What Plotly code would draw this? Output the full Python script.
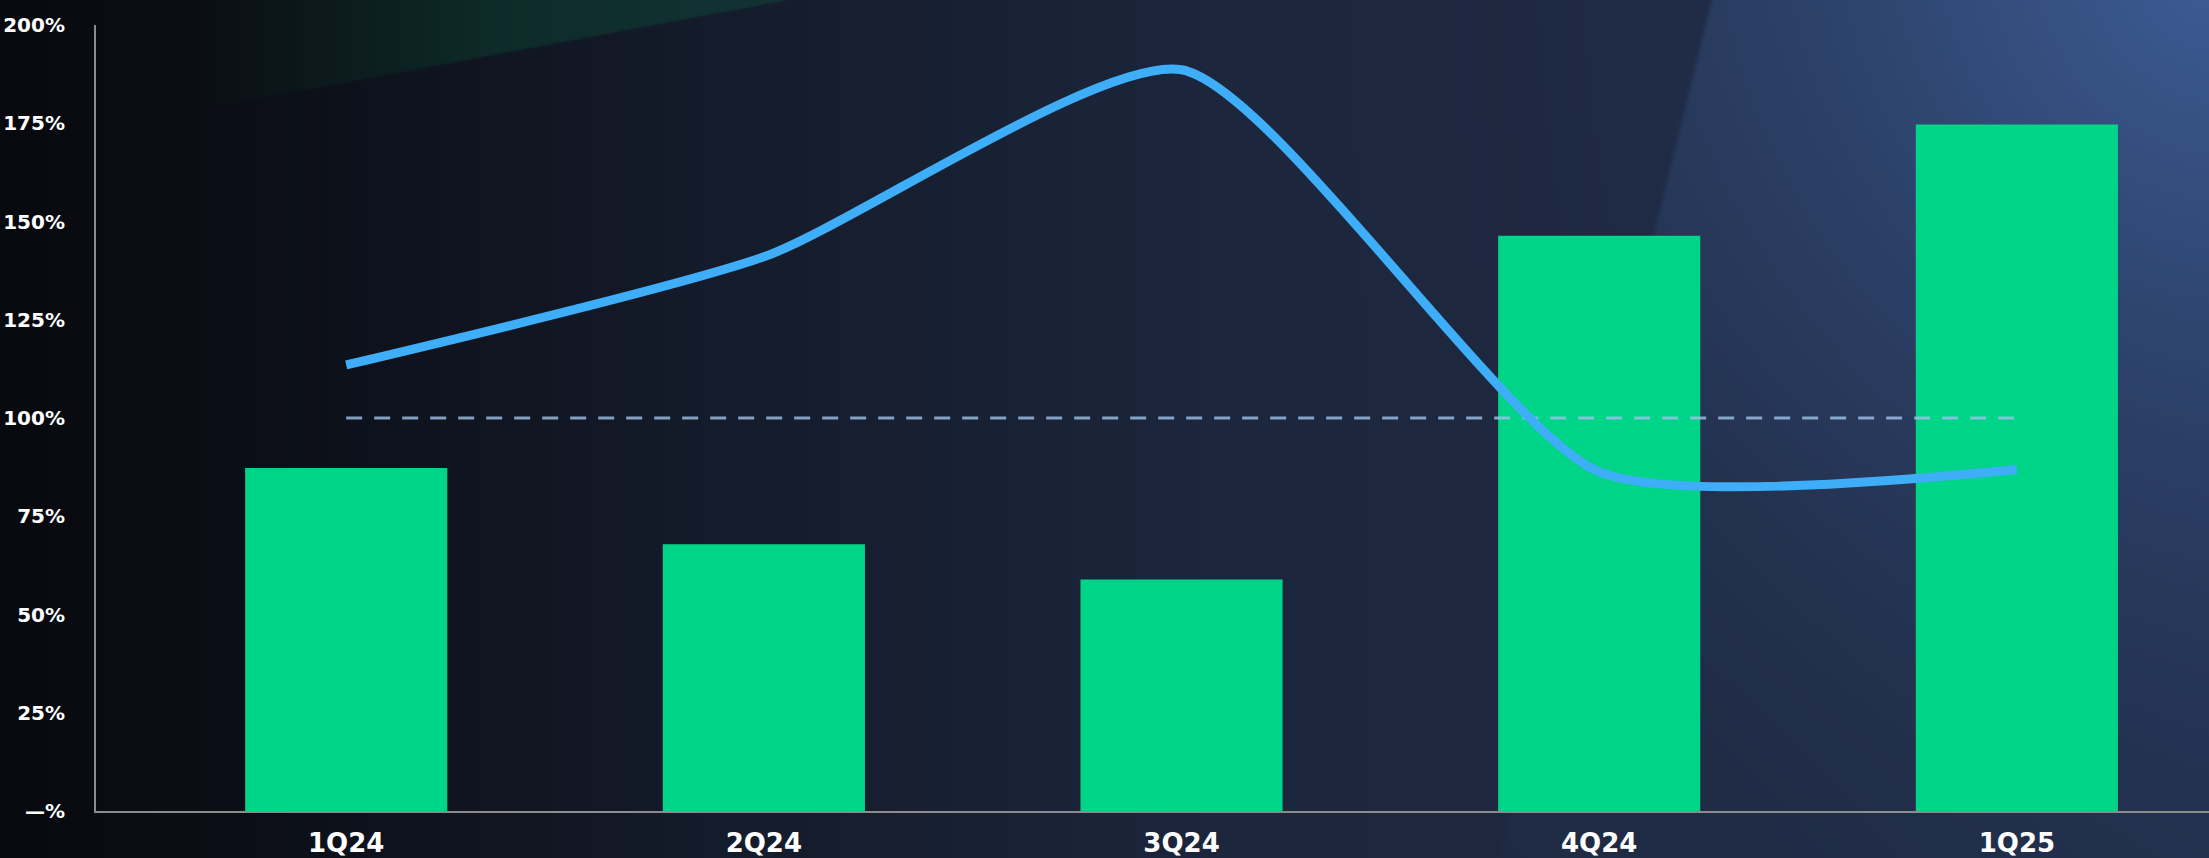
import numpy as np, zlib, struct, base64
import plotly.graph_objects as go

# ---------------- data ----------------
quarters = ["1Q24", "2Q24", "3Q24", "4Q24", "1Q25"]
bar_values = [87.3, 67.9, 58.9, 146.4, 174.7]
line_values = [113.5, 141.0, 188.6, 86.3, 86.9]
threshold_values = [100, 100, 100, 100, 100]
y_tickvals = [0, 25, 50, 75, 100, 125, 150, 175, 200]
y_ticktext = ["—%", "25%", "50%", "75%", "100%", "125%", "150%", "175%", "200%"]

# ---------------- background image (decoration) ----------------
FW, FH = 2209, 858
W, H = 1105, 429
xs = (np.arange(W) + 0.5) * FW / W
ys = (np.arange(H) + 0.5) * FH / H
X, Y = np.meshgrid(xs, ys)

xp = [0, 250, 700, 1200, 1700, 2209]
R = np.interp(X, xp, [8, 12, 20, 28, 31, 34])
G = np.interp(X, xp, [10, 15, 27, 38, 42, 47])
B = np.interp(X, xp, [15, 23, 42, 60, 66, 76])

# beam region (right of a diagonal)
m = np.clip((X - (1712 - 0.25 * Y)) / 6 + 0.5, 0, 1)
d = np.sqrt((X - 2209) ** 2 + (Y + 30) ** 2)
g = np.clip(1 - d / 950, 0, 1) ** 1.7
f = g * (m + (1 - m) * 0.25)
R += f * 22 + m * 5 * (1 - Y / 1100)
G += f * 38 + m * 8 * (1 - Y / 1100)
B += f * 60 + m * 14 * (1 - Y / 1100)

# faint green wedge top-left
yedge = 84 * (789 - X) / 451
mg = np.clip((yedge - Y) / 2 + 0.5, 0, 1) * np.clip((X - 200) / 300, 0, 1)
R += mg * -3
G += mg * 22
B += mg * 8

img = np.clip(np.stack([R, G, B], -1), 0, 255).astype(np.uint8)
raw = b"".join(b"\x00" + img[i].tobytes() for i in range(H))


def chunk(t, dd):
    return struct.pack(">I", len(dd)) + t + dd + struct.pack(">I", zlib.crc32(t + dd) & 0xffffffff)


png = (b"\x89PNG\r\n\x1a\n"
       + chunk(b"IHDR", struct.pack(">IIBBBBB", W, H, 8, 2, 0, 0, 0))
       + chunk(b"IDAT", zlib.compress(raw, 9))
       + chunk(b"IEND", b""))
uri = "data:image/png;base64," + base64.b64encode(png).decode()

# ---------------- figure ----------------
ML, MR, MT, MB = 96, 0, 25, 47
PW, PH = FW - ML - MR, FH - MT - MB

fig = go.Figure()
fig.add_trace(go.Bar(x=quarters, y=bar_values, marker_color="#00D488",
                     marker_line_width=0, width=0.484, hoverinfo="skip"))
fig.add_trace(go.Scatter(x=quarters, y=threshold_values, mode="lines",
                         line=dict(color="rgba(160,195,232,0.8)", width=3, dash="16px,12px"),
                         hoverinfo="skip"))
fig.add_trace(go.Scatter(x=quarters, y=line_values, mode="lines",
                         line=dict(color="#3FAEF8", width=9, shape="spline", smoothing=0.6),
                         hoverinfo="skip"))

fig.update_layout(
    width=FW, height=FH,
    margin=dict(l=ML, r=MR, t=MT, b=MB, pad=0, autoexpand=False),
    paper_bgcolor="#0d1220",
    plot_bgcolor="rgba(0,0,0,0)",
    showlegend=False,
    images=[dict(source=uri, xref="paper", yref="paper",
                 x=-ML / PW, y=1 + MT / PH, sizex=FW / PW, sizey=FH / PH,
                 xanchor="left", yanchor="top", sizing="stretch", layer="below")],
    xaxis=dict(type="category", range=[-0.599, 4.46], showline=True, linecolor="#8c8c8c",
               linewidth=2, showgrid=False, zeroline=False, ticks="", automargin=False,
               tickfont=dict(family="DejaVu Sans", size=26, color="white", weight="bold"),
               ticklabelstandoff=8),
    yaxis=dict(range=[0, 200], tickvals=y_tickvals, ticktext=y_ticktext, showline=True,
               linecolor="#8c8c8c", linewidth=2, showgrid=False, zeroline=False, ticks="",
               automargin=False,
               tickfont=dict(family="DejaVu Sans", size=20, color="white", weight="bold"),
               ticklabelstandoff=25),
)

fig.write_html("out.html", include_plotlyjs=True, config={"displayModeBar": False})
